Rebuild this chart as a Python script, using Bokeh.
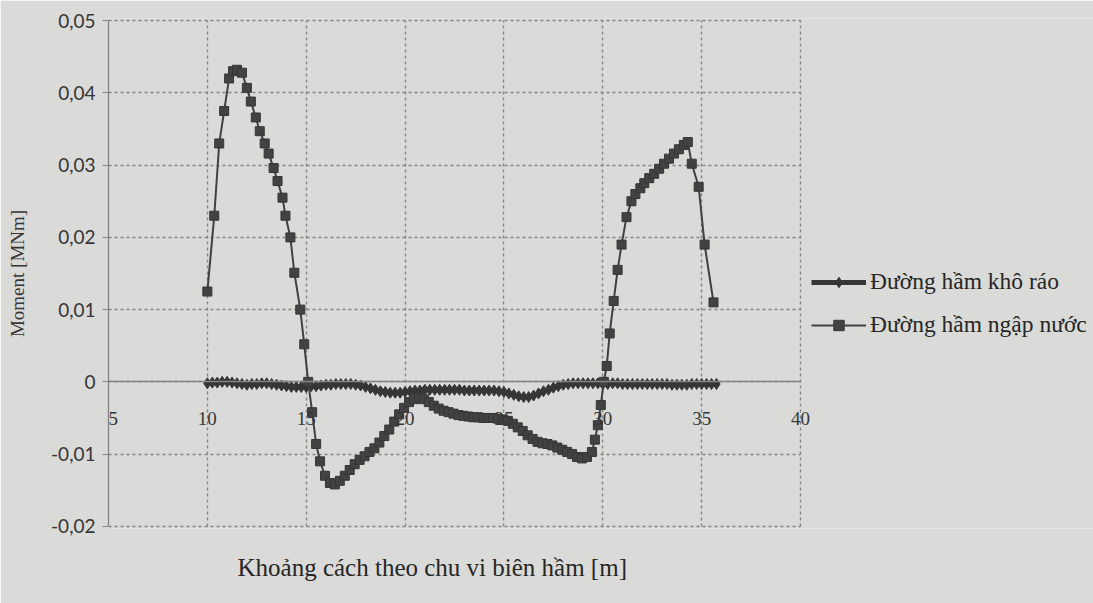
from bokeh.plotting import figure
from bokeh.models import (Range1d, FixedTicker, CustomJSTickFormatter, Legend,
                          LegendItem, Title)
from bokeh.embed import file_html
from bokeh.resources import INLINE

# ---------------- data ----------------
x_ticks = [5, 10, 15, 20, 25, 30, 35, 40]
y_ticks = [-0.02, -0.01, 0.0, 0.01, 0.02, 0.03, 0.04, 0.05]

series_names = ["Đường hầm khô ráo", "Đường hầm ngập nước"]

dry_x = [
    10.0, 10.25, 10.5, 10.75, 11.0, 11.25, 11.5, 11.75,
    12.0, 12.25, 12.5, 12.75, 13.0, 13.25, 13.5, 13.75,
    14.0, 14.25, 14.5, 14.75, 15.0, 15.25, 15.5, 15.75,
    16.0, 16.25, 16.5, 16.75, 17.0, 17.25, 17.5, 17.75,
    18.0, 18.25, 18.5, 18.75, 19.0, 19.25, 19.5, 19.75,
    20.0, 20.25, 20.5, 20.75, 21.0, 21.25, 21.5, 21.75,
    22.0, 22.25, 22.5, 22.75, 23.0, 23.25, 23.5, 23.75,
    24.0, 24.25, 24.5, 24.75, 25.0, 25.25, 25.5, 25.75,
    26.0, 26.25, 26.5, 26.75, 27.0, 27.25, 27.5, 27.75,
    28.0, 28.25, 28.5, 28.75, 29.0, 29.25, 29.5, 29.75,
    30.0, 30.25, 30.5, 30.75, 31.0, 31.25, 31.5, 31.75,
    32.0, 32.25, 32.5, 32.75, 33.0, 33.25, 33.5, 33.75,
    34.0, 34.25, 34.5, 34.75, 35.0, 35.25, 35.5, 35.75,
]
dry_y = [
    -0.0002, -0.0001, -0.0001, 0.0, 0.0, -0.0001, -0.0002, -0.0003,
    -0.0004, -0.0003, -0.0003, -0.0002, -0.0002, -0.0003, -0.0004, -0.0005,
    -0.0006, -0.0007, -0.0007, -0.0007, -0.0007, -0.0006, -0.0006, -0.0005,
    -0.0004, -0.0004, -0.0003, -0.0003, -0.0003, -0.0003, -0.0004, -0.0005,
    -0.0007, -0.0009, -0.0011, -0.0013, -0.0014, -0.0015, -0.0015, -0.0015,
    -0.0014, -0.0013, -0.0012, -0.0012, -0.0011, -0.0011, -0.0011, -0.0011,
    -0.0011, -0.0011, -0.0011, -0.0011, -0.0012, -0.0012, -0.0012, -0.0012,
    -0.0012, -0.0012, -0.0012, -0.0013, -0.0014, -0.0016, -0.0018, -0.0020,
    -0.0021, -0.0021, -0.0019, -0.0016, -0.0013, -0.0011, -0.0008, -0.0006,
    -0.0004, -0.0003, -0.0002, -0.0002, -0.0002, -0.0002, -0.0002, -0.0002,
    -0.0003, -0.0003, -0.0002, -0.0002, -0.0003, -0.0003, -0.0003, -0.0003,
    -0.0003, -0.0003, -0.0003, -0.0003, -0.0003, -0.0003, -0.0004, -0.0004,
    -0.0004, -0.0004, -0.0003, -0.0003, -0.0003, -0.0003, -0.0003, -0.0003,
]

flood_x = [
    # left peak
    10.0, 10.35, 10.6, 10.85, 11.1, 11.3, 11.5, 11.75,
    12.0, 12.2, 12.45, 12.65, 12.9, 13.1, 13.35, 13.55,
    13.8, 13.95, 14.2, 14.4, 14.7, 14.9, 15.1,
    # first trough
    15.3, 15.5, 15.7, 15.95,
    16.2, 16.45, 16.7, 16.95, 17.2, 17.45, 17.7, 17.95,
    18.2, 18.45, 18.7, 18.95, 19.2, 19.45, 19.7, 19.95,
    20.2, 20.45, 20.7, 20.95, 21.2, 21.45, 21.7, 21.95,
    22.2, 22.45, 22.7, 22.95, 23.2, 23.45, 23.7, 23.95,
    24.2, 24.45, 24.7, 24.95, 25.2, 25.45, 25.7, 25.95,
    26.2, 26.45, 26.7, 26.95, 27.2, 27.45, 27.7, 27.95,
    28.2, 28.45, 28.7, 28.95, 29.2, 29.45,
    29.6, 29.75, 29.9, 30.05,
    # right peak
    30.2, 30.35, 30.55, 30.75, 30.95, 31.2, 31.45, 31.65,
    31.9, 32.1, 32.35, 32.6, 32.85, 33.1, 33.35, 33.6,
    33.85, 34.1, 34.3, 34.5, 34.85, 35.15, 35.6,
]
flood_y = [
    # left peak
    0.0125, 0.023, 0.033, 0.0375, 0.042, 0.043, 0.0432, 0.0428,
    0.0407, 0.0388, 0.0366, 0.0347, 0.033, 0.0316, 0.0296, 0.0278,
    0.0255, 0.023, 0.020, 0.0151, 0.010, 0.0052, 0.0,
    # first trough
    -0.0042, -0.0086, -0.011, -0.013,
    -0.0140, -0.0142, -0.0137, -0.0130, -0.0122, -0.0114, -0.0108, -0.0103,
    -0.0097, -0.0092, -0.0084, -0.0075, -0.0066, -0.0055, -0.0045, -0.0036,
    -0.0028, -0.0024, -0.0022, -0.0024, -0.0028, -0.0033, -0.0037, -0.0040,
    -0.0042, -0.0044, -0.0046, -0.0047, -0.0048, -0.0049, -0.0049, -0.0050,
    -0.0050, -0.0050, -0.0051, -0.0052, -0.0054, -0.0058, -0.0063, -0.0068,
    -0.0074, -0.0079, -0.0083, -0.0085, -0.0086, -0.0088, -0.0091, -0.0094,
    -0.0097, -0.0100, -0.0104, -0.0106, -0.0104, -0.0097,
    -0.0080, -0.0060, -0.0032, 0.0,
    # right peak
    0.0022, 0.0067, 0.0112, 0.0155, 0.019, 0.0228, 0.025, 0.026,
    0.0268, 0.0275, 0.0282, 0.0288, 0.0295, 0.0302, 0.0309, 0.0316,
    0.0322, 0.0328, 0.0332, 0.0302, 0.027, 0.019, 0.011,
]

# ---------------- styling ----------------
BG = "#dadad8"
INK = "#363636"
GRID = "#858585"
SERIF = "Liberation Serif"

W, H = 1093, 603
LEFT, TOP, BOTTOM = 108, 18, 75
PLOT_W = 692                      # pixel width of the 5..40 span
frame_w = W - LEFT
x_lo, x_hi = x_ticks[0], x_ticks[-1]
x_end = x_lo + (x_hi - x_lo) * frame_w / PLOT_W
y_lo, y_hi = y_ticks[0], y_ticks[-1]

p = figure(width=W, height=H,
           x_range=Range1d(x_lo, x_end),
           y_range=Range1d(y_lo - 0.0003, y_hi + 0.0003),
           output_backend="svg", toolbar_location=None,
           min_border_left=LEFT, min_border_right=0,
           min_border_top=TOP, min_border_bottom=BOTTOM,
           background_fill_color=BG, border_fill_color=BG)
p.outline_line_color = None

# grid (dashed), limited to the 5..40 / -0.02..0.05 box
p.xgrid.ticker = FixedTicker(ticks=x_ticks)
p.ygrid.ticker = FixedTicker(ticks=y_ticks)
p.xgrid.cross_bounds = (y_lo, y_hi)
p.ygrid.cross_bounds = (x_lo, x_hi)
for g in (p.xgrid, p.ygrid):
    g.grid_line_color = GRID
    g.grid_line_dash = "3 3"
    g.grid_line_width = 1.4

# y axis
yax = p.yaxis[0]
yax.bounds = (y_lo, y_hi)
yax.ticker = FixedTicker(ticks=y_ticks)
yax.formatter = CustomJSTickFormatter(code="""
    if (Math.abs(tick) < 1e-9) { return '0'; }
    return tick.toFixed(2).replace('.', ',');
""")
yax.axis_line_color = GRID
yax.axis_line_width = 1.3
yax.major_tick_line_color = GRID
yax.major_tick_out = 6
yax.major_tick_in = 0
yax.minor_tick_line_color = None
yax.major_label_standoff = 7
yax.major_label_text_font = "Lato"
yax.major_label_text_font_size = "19px"
yax.major_label_text_color = INK
yax.axis_label = "Moment [MNm]"
yax.axis_label_text_font = SERIF
yax.axis_label_text_font_style = "normal"
yax.axis_label_text_font_size = "19px"
yax.axis_label_text_color = INK
yax.axis_label_standoff = 20

# x axis, crossing at y = 0
xax = p.xaxis[0]
xax.fixed_location = 0
xax.bounds = (x_lo, x_hi)
xax.ticker = FixedTicker(ticks=x_ticks)
xax.major_label_overrides = {5: "\u00a0\u00a05"}
xax.axis_line_color = GRID
xax.axis_line_width = 1.3
xax.major_tick_line_color = None
xax.minor_tick_line_color = None
xax.major_label_standoff = 20
xax.major_label_text_font = SERIF
xax.major_label_text_font_size = "19px"
xax.major_label_text_color = INK

p.add_layout(Title(text="Khoảng cách theo chu vi biên hầm [m]", align="left",
                   offset=129, standoff=46,
                   text_font=SERIF, text_font_style="normal",
                   text_font_size="25px", text_color="#262626"), "below")

# series
dry_line = p.line(dry_x, dry_y, line_color=INK, line_width=5)
dry_pts = p.scatter(dry_x, dry_y, marker="diamond", size=11,
                    fill_color=INK, line_color=INK)
fl_line = p.line(flood_x, flood_y, line_color="#404040", line_width=2)
fl_pts = p.scatter(flood_x, flood_y, marker="square", size=9,
                   fill_color="#424242", line_color="#363636")

legend = Legend(items=[
    LegendItem(label=series_names[0], renderers=[dry_line, dry_pts]),
    LegendItem(label=series_names[1], renderers=[fl_line, fl_pts]),
], location=(703, 190), orientation="vertical",
    label_text_font=SERIF, label_text_font_size="23.5px", label_text_color="#262626",
    glyph_width=55, glyph_height=26, label_height=26, label_standoff=4,
    spacing=16, padding=4,
    border_line_color=None, background_fill_alpha=0)
p.add_layout(legend, "center")

open("out.html", "w").write(file_html(p, INLINE))
